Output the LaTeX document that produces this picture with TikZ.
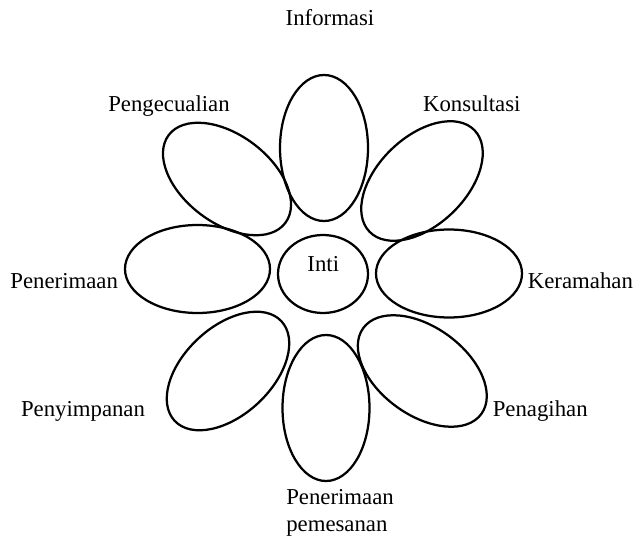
\documentclass[tikz,border=0pt]{standalone}
\usepackage{fontspec}
\setmainfont{Liberation Serif}
\usetikzlibrary{shapes.geometric}
\begin{document}
\begin{tikzpicture}[
    petal/.style={draw, ellipse, line width=1.6pt, inner sep=0pt, minimum width=3.65cm, minimum height=2.2cm},
    lbl/.style={anchor=base, inner sep=0pt, font=\fontsize{16.2}{19.2}\selectfont}
  ]
  \useasboundingbox (0,0) rectangle (15.9,-13.425);
  % core
  \node [petal, minimum width=2.25cm, minimum height=1.95cm] (inti) at (8.075,-6.85) {};
  \node [lbl] (intitext) at (8.0825,-6.775) {Inti};
  % petals
  \node [petal, rotate=90] (informasi) at (8.1,-3.7) {};
  \node [petal, rotate=44] (konsultasi) at (10.55,-4.525) {};
  \node [petal] (keramahan) at (11.225,-6.8375) {};
  \node [petal, rotate=-36] (penagihan) at (10.5575,-9.275) {};
  \node [petal, rotate=90, minimum height=2.175cm] (pemesanan) at (8.15,-10.2) {};
  \node [petal, rotate=43] (penyimpanan) at (5.7,-9.275) {};
  \node [petal, minimum width=3.625cm] (penerimaan) at (4.9375,-6.725) {};
  \node [petal, rotate=-37] (pengecualian) at (5.675,-4.475) {};
  % labels
  \node [lbl] (tinformasi) at (8.25,-0.65) {Informasi};
  \node [lbl] (tkonsultasi) at (11.795,-2.8) {Konsultasi};
  \node [lbl] (tkeramahan) at (14.51,-7.2) {Keramahan};
  \node [lbl] (tpenagihan) at (13.505,-10.4) {Penagihan};
  \node [lbl, anchor=base west] (tpemesanana) at (7.15,-12.6) {Penerimaan};
  \node [lbl, anchor=base west] (tpemesananb) at (7.15,-13.275) {pemesanan};
  \node [lbl] (tpenyimpanan) at (2.075,-10.4) {Penyimpanan};
  \node [lbl] (tpenerimaan) at (1.605,-7.2) {Penerimaan};
  \node [lbl] (tpengecualian) at (4.225,-2.8) {Pengecualian};
\end{tikzpicture}
\end{document}
